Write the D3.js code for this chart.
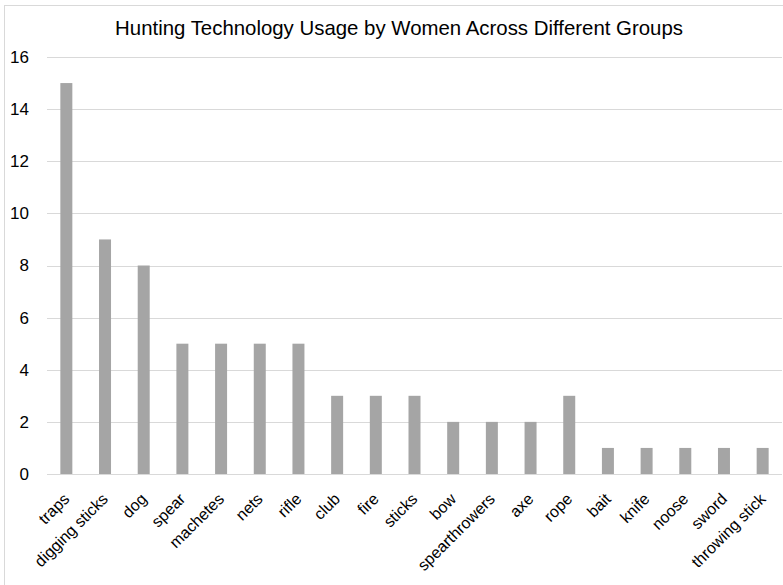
<!DOCTYPE html>
<html>
<head>
<meta charset="utf-8">
<script src="https://cdn.jsdelivr.net/npm/d3@7"></script>
<style>
  body { margin: 0; background: #fff; }
  text { font-family: "Liberation Sans", "DejaVu Sans", sans-serif; fill: #000; }
</style>
</head>
<body>
<script>
var categories = ["traps", "digging sticks", "dog", "spear", "machetes", "nets", "rifle", "club", "fire", "sticks", "bow", "spearthrowers", "axe", "rope", "bait", "knife", "noose", "sword", "throwing stick"];
var counts = [15, 9, 8, 5, 5, 5, 5, 3, 3, 3, 2, 2, 2, 3, 1, 1, 1, 1, 1];
var yTicks = [0, 2, 4, 6, 8, 10, 12, 14, 16];
var title = "Hunting Technology Usage by Women Across Different Groups";

var width = 783;
var height = 585;

var svg = d3.select("body")
    .append("svg")
    .attr("width", width)
    .attr("height", height);

// chart frame (runs off the right/bottom edge like the original)
svg.append("rect")
    .attr("x", 4.5)
    .attr("y", 5.5)
    .attr("width", 800)
    .attr("height", 600)
    .attr("fill", "none")
    .attr("stroke", "#d9d9d9");

var plotLeft = 47, plotRight = 782, plotTop = 57, plotBottom = 474;

var xScale = d3.scaleBand()
    .domain(categories)
    .range([plotLeft, plotRight])
    .paddingInner(0.69)
    .paddingOuter(0.345);

var yScale = d3.scaleLinear()
    .domain([0, 16])
    .range([plotBottom, plotTop]);

svg.append("text")
    .attr("x", 399)
    .attr("y", 35)
    .attr("text-anchor", "middle")
    .style("font-size", "20.4px")
    .text(title);

// gridlines
svg.append("g")
    .selectAll("line")
    .data(yTicks)
    .enter()
    .append("line")
    .attr("x1", plotLeft)
    .attr("x2", plotRight)
    .attr("y1", function (d) { return Math.round(yScale(d)) + 0.5; })
    .attr("y2", function (d) { return Math.round(yScale(d)) + 0.5; })
    .attr("stroke", "#d9d9d9")
    .attr("stroke-width", 1);

// y axis labels
var yAxis = d3.axisLeft(yScale).tickValues(yTicks).tickSize(0).tickPadding(0);
var yAxisGroup = svg.append("g")
    .attr("transform", "translate(29,0)")
    .call(yAxis);
yAxisGroup.select(".domain").remove();
yAxisGroup.selectAll("text")
    .style("font-size", "17px")
    .style("font-family", "'Liberation Sans', sans-serif")
    .attr("fill", "#000");

// bars
svg.append("g")
    .selectAll("rect")
    .data(categories)
    .enter()
    .append("rect")
    .attr("x", function (d) { return xScale(d); })
    .attr("y", function (d, i) { return yScale(counts[i]); })
    .attr("width", xScale.bandwidth())
    .attr("height", function (d, i) { return yScale(0) - yScale(counts[i]); })
    .attr("fill", "#a5a5a5");

// x axis labels, rotated
var xAxis = d3.axisBottom(xScale).tickSize(0).tickPadding(0);
var xAxisGroup = svg.append("g")
    .attr("transform", "translate(0," + plotBottom + ")")
    .call(xAxis);
xAxisGroup.select(".domain").remove();
xAxisGroup.selectAll("text")
    .style("font-size", "16px")
    .style("font-family", "'Liberation Sans', sans-serif")
    .attr("fill", "#000")
    .attr("text-anchor", "end")
    .attr("dy", null)
    .attr("y", 0)
    .attr("transform", "translate(4,26) rotate(-45)");
</script>
</body>
</html>
